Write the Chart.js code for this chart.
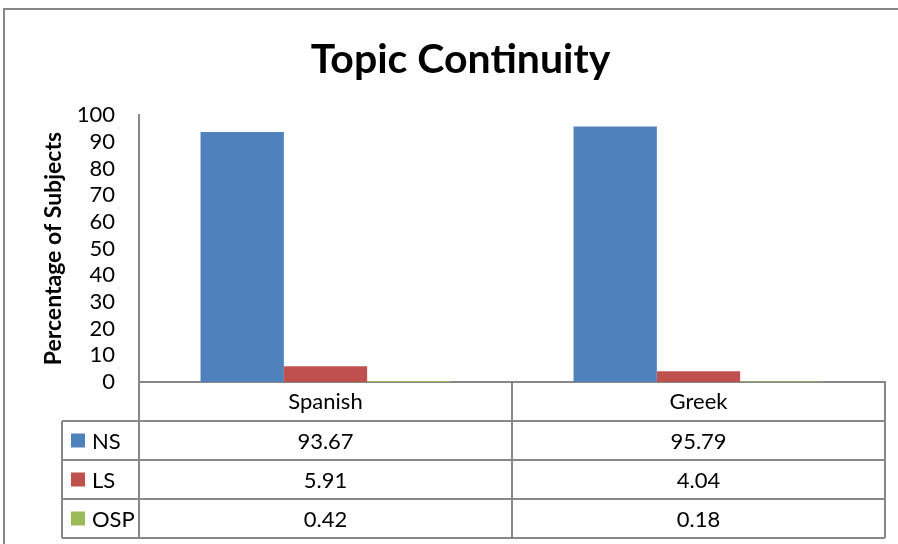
<!DOCTYPE html>
<html>
<head>
<meta charset="utf-8">
<script src="https://cdn.jsdelivr.net/npm/chart.js@4"></script>
<style>
  html, body { margin: 0; padding: 0; background: #fff; }
  #wrap { position: absolute; left: 0; top: 0; width: 898px; height: 544px; }
</style>
</head>
<body>
<div id="wrap"><canvas id="chart"></canvas></div>
<script>
const categories = ['Spanish', 'Greek'];
const seriesNames = ['NS', 'LS', 'OSP'];
const nsValues = [93.67, 95.79];
const lsValues = [5.91, 4.04];
const ospValues = [0.42, 0.18];
const yTicks = [0, 10, 20, 30, 40, 50, 60, 70, 80, 90, 100];

const colors = ['#4F81BD', '#C0504D', '#9BBB59'];
const seriesValues = [nsValues, lsValues, ospValues];
const lineColor = '#888888';
const font = 'Lato, "Open Sans", sans-serif';

// draws the data table under the plot, Excel style
const dataTable = {
  id: 'dataTable',
  afterDraw(chart) {
    const ctx = chart.ctx;
    const area = chart.chartArea;
    const x = chart.scales.x;
    const rowH = 39;
    const legendLeft = 62;
    const top = area.bottom;
    const bottom = top + rowH * 4;
    const mid = (x.getPixelForValue(0) + x.getPixelForValue(1)) / 2;
    const cols = [area.left, mid, area.right];

    ctx.save();
    ctx.strokeStyle = lineColor;
    ctx.lineWidth = 2;

    // page frame
    ctx.beginPath();
    ctx.moveTo(4, 544);
    ctx.lineTo(4, 9);
    ctx.lineTo(898, 9);
    ctx.stroke();

    ctx.beginPath();
    // horizontal lines
    ctx.moveTo(area.left, top + rowH);
    ctx.lineTo(area.right, top + rowH);
    for (let r = 1; r <= 4; r++) {
      ctx.moveTo(legendLeft, top + rowH * r);
      ctx.lineTo(area.right, top + rowH * r);
    }
    // vertical lines
    cols.forEach(cx => {
      ctx.moveTo(cx, top);
      ctx.lineTo(cx, bottom);
    });
    ctx.moveTo(legendLeft, top + rowH);
    ctx.lineTo(legendLeft, bottom);
    ctx.stroke();

    ctx.fillStyle = '#000';
    ctx.font = '22px ' + font;
    ctx.textBaseline = 'middle';
    ctx.textAlign = 'center';
    categories.forEach((c, i) => {
      ctx.fillText(c, x.getPixelForValue(i), top + rowH / 2);
    });

    seriesNames.forEach((name, s) => {
      const cy = top + rowH * (s + 1) + rowH / 2;
      ctx.fillStyle = colors[s];
      ctx.fillRect(legendLeft + 9, cy - 7, 14, 14);
      ctx.fillStyle = '#000';
      ctx.textAlign = 'left';
      ctx.fillText(name, legendLeft + 30, cy + 1);
      ctx.textAlign = 'center';
      seriesValues[s].forEach((v, i) => {
        ctx.fillText(v.toFixed(2), x.getPixelForValue(i), cy + 1);
      });
    });
    ctx.restore();
  }
};

new Chart(document.getElementById('chart'), {
  type: 'bar',
  data: {
    labels: categories,
    datasets: seriesNames.map((name, s) => ({
      label: name,
      data: seriesValues[s],
      backgroundColor: colors[s],
      borderWidth: 0,
      categoryPercentage: 0.67,
      barPercentage: 1
    }))
  },
  options: {
    responsive: true,
    maintainAspectRatio: false,
    animation: false,
    layout: { padding: { left: 36, right: 13, top: 0, bottom: 162 } },
    plugins: {
      legend: { display: false },
      tooltip: { enabled: false },
      title: {
        display: true,
        text: 'Topic Continuity',
        color: '#000',
        font: { family: font, size: 41, weight: 'bold' },
        padding: { top: 35, bottom: 31 }
      }
    },
    scales: {
      x: {
        grid: { display: false, drawTicks: false },
        border: { display: true, color: lineColor, width: 2 },
        ticks: { display: false },
        afterFit(scale) { scale.height = 0; }
      },
      y: {
        min: 0,
        max: 100,
        grid: { display: false, drawTicks: false },
        border: { display: true, color: lineColor, width: 2 },
        afterBuildTicks(scale) { scale.ticks = yTicks.map(v => ({ value: v })); },
        ticks: {
          color: '#000',
          padding: 24,
          autoSkip: false,
          font: { family: font, size: 22 }
        },
        title: {
          display: true,
          text: 'Percentage of Subjects',
          color: '#000',
          font: { family: font, size: 23, weight: 'bold' },
          padding: 4
        },
        afterFit(scale) { scale.width = 103; }
      }
    }
  },
  plugins: [dataTable]
});
</script>
</body>
</html>
